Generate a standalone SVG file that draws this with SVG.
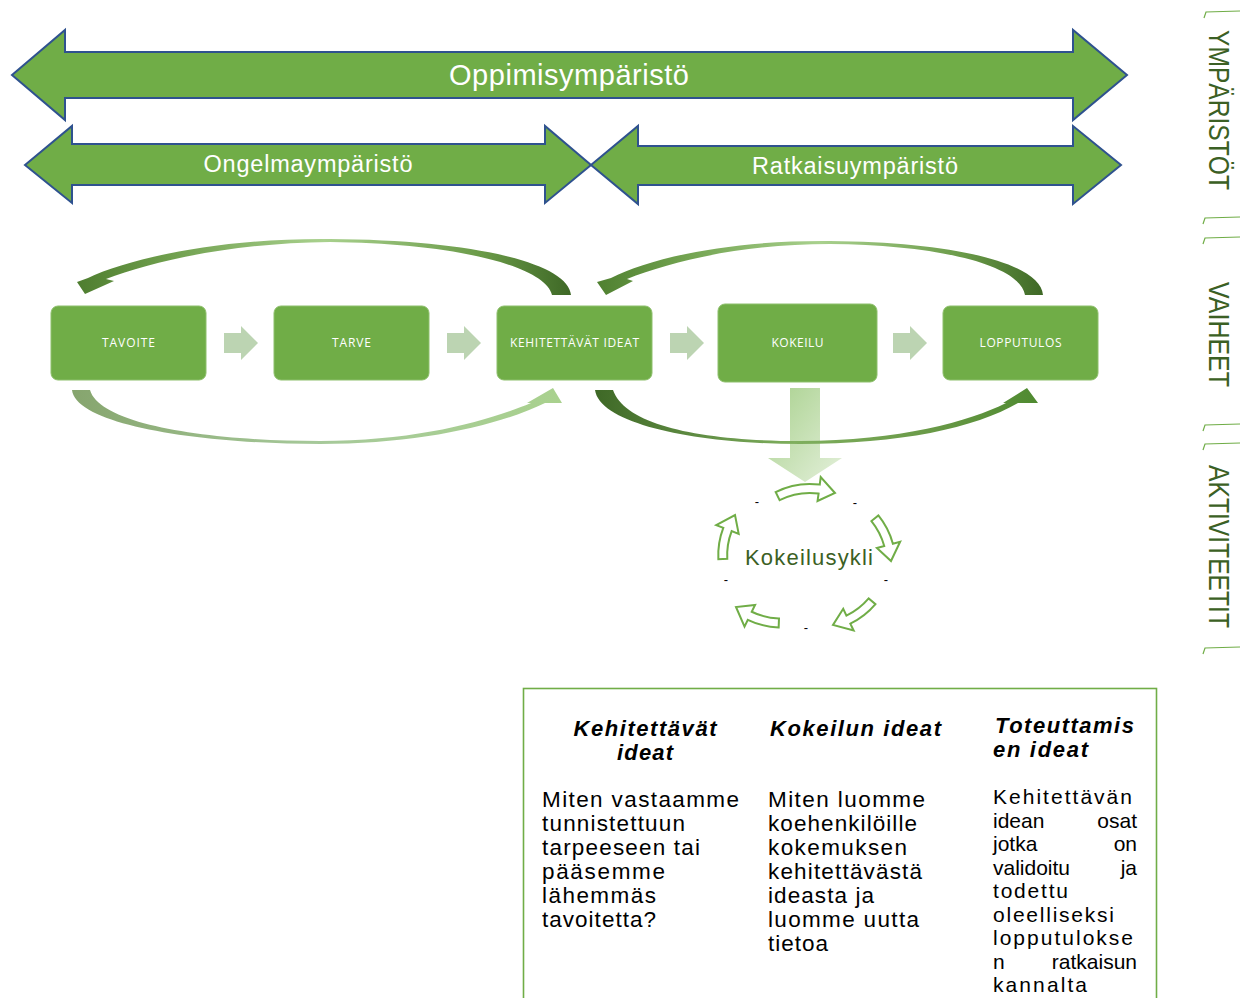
<svg xmlns="http://www.w3.org/2000/svg" width="1241" height="998" viewBox="0 0 1241 998">
<defs>
<style>
.band{fill:#70AD47;stroke:#2F528F;stroke-width:2;stroke-linejoin:miter}
.bandtxt{font-family:"Liberation Sans",Arial,sans-serif;fill:#ffffff;text-anchor:middle}
.box{fill:#70AD47;stroke:#8dbf6c;stroke-width:1}
.boxtxt{font-family:"Open Sans","DejaVu Sans",sans-serif;font-size:12px;fill:#ffffff;text-anchor:middle}
.step{fill:#BCD4B2}
.cyc{fill:#ffffff;stroke:#70AD47;stroke-width:2;stroke-linejoin:miter}
.dash{font-family:"Liberation Sans",Arial,sans-serif;font-size:13px;fill:#000000;text-anchor:middle}
.side{font-family:"Liberation Sans",Arial,sans-serif;font-size:30px;fill:#3B6024}
.tick{fill:none;stroke:#70AD47;stroke-width:1.2}
.hdr{font-family:"Liberation Sans",Arial,sans-serif;font-size:22px;font-weight:bold;font-style:italic;fill:#000000}
.body{font-family:"Liberation Sans",Arial,sans-serif;font-size:22.5px;fill:#000000}
.body3{font-family:"Liberation Sans",Arial,sans-serif;font-size:21px;fill:#000000}
</style>
<linearGradient id="gTL" x1="0" y1="0" x2="1" y2="0">
<stop offset="0" stop-color="#4E7D2F"/><stop offset="0.18" stop-color="#6E9E4C"/><stop offset="0.5" stop-color="#A9D18E"/><stop offset="0.82" stop-color="#6A9A48"/><stop offset="1" stop-color="#3E6826"/>
</linearGradient>
<linearGradient id="gTR" x1="0" y1="0" x2="1" y2="0">
<stop offset="0" stop-color="#4F8030"/><stop offset="0.2" stop-color="#72A350"/><stop offset="0.5" stop-color="#A9D18E"/><stop offset="0.82" stop-color="#6A9A48"/><stop offset="1" stop-color="#3E6826"/>
</linearGradient>
<linearGradient id="gBL" x1="0" y1="0" x2="1" y2="0">
<stop offset="0" stop-color="#86A56E"/><stop offset="0.5" stop-color="#A6C99A"/><stop offset="1" stop-color="#A9D18E"/>
</linearGradient>
<linearGradient id="gBR" x1="0" y1="0" x2="1" y2="0">
<stop offset="0" stop-color="#3E6826"/><stop offset="0.45" stop-color="#7FAF5E"/><stop offset="0.75" stop-color="#6A9A48"/><stop offset="1" stop-color="#4F8A30"/>
</linearGradient>
<linearGradient id="gDown" x1="0" y1="0" x2="1" y2="1">
<stop offset="0" stop-color="#A9D18E"/><stop offset="1" stop-color="#E4F0DB"/>
</linearGradient>
<path id="cycLong" d="M-59.2 -4.6 A76.5 76.5 0 0 1 -14.7 -9.3 L-13.3 -16.7 L0 0 L-17.9 6.9 L-16.4 -0.5 A67.5 67.5 0 0 0 -55.7 3.7 Z"/>
<path id="cycShort" d="M-46.5 -8.7 A76.5 76.5 0 0 1 -14.7 -9.3 L-13.3 -16.7 L0 0 L-17.9 6.9 L-16.4 -0.5 A67.5 67.5 0 0 0 -44.5 0 Z"/>
</defs>
<rect width="1241" height="998" fill="#ffffff"/>

<g id="band-oppimis">
<path class="band" d="M12 75 L65 30 L65 52 L1073 52 L1073 30 L1127 75 L1073 120 L1073 98 L65 98 L65 120 Z"/>
<text class="bandtxt" x="569" y="85" font-size="29" textLength="240">Oppimisympäristö</text>
</g>
<g id="band-ongelma">
<path class="band" d="M25 165 L72 126 L72 144 L545 144 L545 126 L591 165 L545 203 L545 185 L72 185 L72 203 Z"/>
<text class="bandtxt" x="308" y="172" font-size="23.5" textLength="209">Ongelmaympäristö</text>
</g>
<g id="band-ratkaisu">
<path class="band" d="M591 165 L638 126 L638 146 L1073 146 L1073 126 L1121 165 L1073 204 L1073 185 L638 185 L638 204 Z"/>
<text class="bandtxt" x="855" y="174" font-size="23.5" textLength="206">Ratkaisuympäristö</text>
</g>

<g id="connectors">
<path fill="url(#gDown)" d="M790 388 L820 388 L820 458 L842 458 L805 482 L768 458 L790 458 Z"/>
<path fill="url(#gTL)" d="M571 295 C568 262 470 240 330 239 C220 238 130 258 88 278 L77 282 L85 294 L114 281 L106 279 C150 262 230 243 330 242 C450 243 545 265 552 295 Z"/>
<path fill="url(#gTR)" d="M1043 295 C1040 262 950 242 830 241 C730 240 650 258 611 278 L597 282 L606 295 L633 281 L627 279 C670 262 740 244 830 244 C940 245 1020 265 1025 295 Z"/>
<path fill="url(#gBL)" d="M72 390 C76 425 200 444 320 444 C420 444 500 425 545 403 L562 403 L553 388 L527 403 L531 403 C490 420 420 441 320 441 C210 441 100 425 90 390 Z"/>
<path fill="url(#gBR)" d="M595 390 C600 425 700 444 800 444 C900 444 975 428 1018 403 L1038 403 L1027 388 L1003 403 L1006 403 C970 421 900 441 800 441 C700 441 625 425 613 390 Z"/>
<path class="step" d="M224 333 L241 333 L241 326 L258 343 L241 360 L241 353 L224 353 Z"/>
<path class="step" d="M447 333 L464 333 L464 326 L481 343 L464 360 L464 353 L447 353 Z"/>
<path class="step" d="M670 333 L687 333 L687 326 L704 343 L687 360 L687 353 L670 353 Z"/>
<path class="step" d="M893 333 L910 333 L910 326 L927 343 L910 360 L910 353 L893 353 Z"/>
</g>

<g id="node-tavoite">
<rect class="box" x="51" y="306" width="155" height="74" rx="7"/>
<text class="boxtxt" x="128.5" y="347" textLength="53">TAVOITE</text>
</g>
<g id="node-tarve">
<rect class="box" x="274" y="306" width="155" height="74" rx="7"/>
<text class="boxtxt" x="351.5" y="347" textLength="39">TARVE</text>
</g>
<g id="node-kehitettavat">
<rect class="box" x="497" y="306" width="155" height="74" rx="7"/>
<text class="boxtxt" x="574.5" y="347" textLength="129">KEHITETTÄVÄT IDEAT</text>
</g>
<g id="node-kokeilu">
<rect class="box" x="718" y="304" width="159" height="78" rx="7"/>
<text class="boxtxt" x="797.5" y="347" textLength="52">KOKEILU</text>
</g>
<g id="node-lopputulos">
<rect class="box" x="943" y="306" width="155" height="74" rx="7"/>
<text class="boxtxt" x="1020.5" y="347" textLength="82">LOPPUTULOS</text>
</g>

<g id="kokeilusykli">
<use href="#cycLong" class="cyc" transform="translate(835 493) rotate(-3.5)"/>
<use href="#cycShort" class="cyc" transform="translate(891 561) rotate(63.9)"/>
<use href="#cycShort" class="cyc" transform="translate(833 625) rotate(143.3)"/>
<use href="#cycShort" class="cyc" transform="translate(736 607) rotate(195)"/>
<use href="#cycShort" class="cyc" transform="translate(735 515) rotate(-80)"/>
<text x="809" y="565" font-family="'Liberation Sans',Arial,sans-serif" font-size="22" fill="#3B6024" text-anchor="middle" textLength="128">Kokeilusykli</text>
<text class="dash" x="757" y="506">-</text>
<text class="dash" x="855" y="507">-</text>
<text class="dash" x="726" y="584">-</text>
<text class="dash" x="886" y="584">-</text>
<text class="dash" x="806" y="632">-</text>
</g>

<g id="side-labels">
<path class="tick" d="M1204 18 L1206 12 L1240 11"/>
<text class="side" transform="translate(1209 30) rotate(90)" textLength="160" lengthAdjust="spacingAndGlyphs">YMPÄRISTÖT</text>
<path class="tick" d="M1203 224 L1205 218 L1240 217"/>
<path class="tick" d="M1203 244 L1205 238 L1240 237"/>
<text class="side" transform="translate(1209 282) rotate(90)" textLength="105" lengthAdjust="spacingAndGlyphs">VAIHEET</text>
<path class="tick" d="M1203 431 L1205 425 L1240 424"/>
<path class="tick" d="M1203 450 L1205 444 L1240 443"/>
<text class="side" transform="translate(1209 465) rotate(90)" textLength="163" lengthAdjust="spacingAndGlyphs">AKTIVITEETIT</text>
<path class="tick" d="M1203 654 L1205 648 L1240 647"/>
</g>

<g id="ideas-table">
<rect x="523.5" y="688.5" width="633" height="330" fill="#ffffff" stroke="#70AD47" stroke-width="1.6"/>
<text class="hdr" x="645" y="736" text-anchor="middle" textLength="143">Kehitettävät</text>
<text class="hdr" x="645" y="760" text-anchor="middle" textLength="56">ideat</text>
<text class="hdr" x="855.5" y="736" text-anchor="middle" textLength="171">Kokeilun ideat</text>
<text class="hdr" x="995" y="733" textLength="139">Toteuttamis</text>
<text class="hdr" x="993" y="757" textLength="95">en ideat</text>

<text class="body" x="542" y="807" textLength="197">Miten vastaamme</text>
<text class="body" x="542" y="831" textLength="143">tunnistettuun</text>
<text class="body" x="542" y="855" textLength="158">tarpeeseen tai</text>
<text class="body" x="542" y="879" textLength="123">pääsemme</text>
<text class="body" x="542" y="903" textLength="114">lähemmäs</text>
<text class="body" x="542" y="927" textLength="114">tavoitetta?</text>

<text class="body" x="768" y="807" textLength="157">Miten luomme</text>
<text class="body" x="768" y="831" textLength="149">koehenkilöille</text>
<text class="body" x="768" y="855" textLength="139">kokemuksen</text>
<text class="body" x="768" y="879" textLength="154">kehitettävästä</text>
<text class="body" x="768" y="903" textLength="106">ideasta ja</text>
<text class="body" x="768" y="927" textLength="151">luomme uutta</text>
<text class="body" x="768" y="951" textLength="60">tietoa</text>

<text class="body3" x="993" y="804" textLength="139">Kehitettävän</text>
<text class="body3" x="993" y="827.5">idean</text>
<text class="body3" x="1137" y="827.5" text-anchor="end">osat</text>
<text class="body3" x="993" y="851">jotka</text>
<text class="body3" x="1137" y="851" text-anchor="end">on</text>
<text class="body3" x="993" y="874.5">validoitu</text>
<text class="body3" x="1137" y="874.5" text-anchor="end">ja</text>
<text class="body3" x="993" y="898" textLength="75">todettu</text>
<text class="body3" x="993" y="921.5" textLength="121">oleelliseksi</text>
<text class="body3" x="993" y="945" textLength="140">lopputulokse</text>
<text class="body3" x="993" y="968.5">n</text>
<text class="body3" x="1137" y="968.5" text-anchor="end">ratkaisun</text>
<text class="body3" x="993" y="992" textLength="94">kannalta</text>
</g>
</svg>
